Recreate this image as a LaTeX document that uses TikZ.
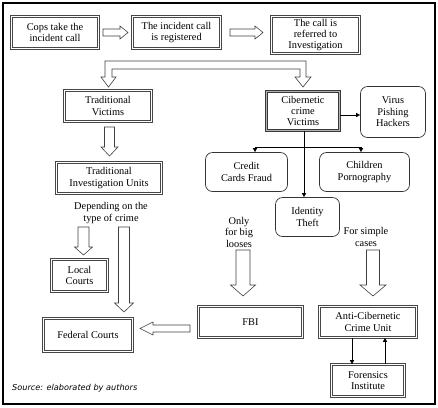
\documentclass[tikz,border=0pt]{standalone}
\usepackage{fontspec}
\setmainfont{Liberation Serif}
\newfontfamily\srcfont{DejaVu Sans}
\usetikzlibrary{arrows.meta}
\newcommand\hhor[6]{\draw[harrow] (#2,{#1-#4}) -- ({#3-(#6)},{#1-#4}) -- ({#3-(#6)},{#1-#5}) -- (#3,#1) -- ({#3-(#6)},{#1+#5}) -- ({#3-(#6)},{#1+#4}) -- (#2,{#1+#4}) -- cycle;}
\newcommand\hver[6]{\draw[harrow] ({#1-#4},#2) -- ({#1-#4},{#3-(#6)}) -- ({#1-#5},{#3-(#6)}) -- (#1,#3) -- ({#1+#5},{#3-(#6)}) -- ({#1+#4},{#3-(#6)}) -- ({#1+#4},#2) -- cycle;}
\begin{document}
\begin{tikzpicture}[x=1bp,y=-1bp,
  every node/.style={inner sep=0pt, align=center, font=\fontsize{10.4}{11.5}\selectfont},
  dbox/.style={draw=gray!55!black, double=white, double distance=1.6bp, line width=0.6bp},
  cbox/.style={draw=gray!45!black, double=gray!60, double distance=1.8bp, line width=0.6bp},
  rbox/.style={draw=gray!40!black, line width=0.7bp, rounded corners=7bp},
  harrow/.style={draw=gray!50!black, line width=0.6bp, fill=white},
  tarrow/.style={draw=black, line width=0.6bp, -{Triangle[length=4bp,width=4bp]}},
  plain/.style={draw=black, line width=0.6bp}
]
\useasboundingbox (0,0) rectangle (438,407);
\draw[line width=2bp] (3,3) rectangle (435,404);

% boxes
\node[dbox, minimum width=87bp, minimum height=32bp] (cops) at (55,32.5) {Cops take the\\incident call};
\node[dbox, minimum width=88bp, minimum height=32bp] (reg) at (176.5,32.5) {The incident call\\is registered};
\node[dbox, minimum width=88bp, minimum height=37bp] (ref) at (315.5,35) {The call is\\referred to\\Investigation};
\node[dbox, minimum width=87bp, minimum height=31bp] (tv) at (108,106) {Traditional\\Victims};
\node[cbox, minimum width=73bp, minimum height=39bp] (cib) at (303,111) {Cibernetic\\crime\\Victims};
\node[rbox, minimum width=65bp, minimum height=51bp] (virus) at (393,112) {Virus\\Pishing\\Hackers};
\node[rbox, minimum width=82bp, minimum height=39bp] (credit) at (246.5,172) {Credit\\Cards Fraud};
\node[rbox, minimum width=90bp, minimum height=39bp] (child) at (364.5,172) {Children\\Pornography};
\node[rbox, minimum width=64bp, minimum height=39bp] (ident) at (307.5,217) {Identity\\Theft};
\node[dbox, minimum width=105bp, minimum height=31bp] (tiu) at (109,178) {Traditional\\Investigation Units};
\node[dbox, minimum width=56bp, minimum height=32bp] (local) at (79.5,275.5) {Local\\Courts};
\node[dbox, minimum width=89bp, minimum height=33bp] (fed) at (88,335) {Federal Courts};
\node[dbox, minimum width=104bp, minimum height=31bp] (fbi) at (250.5,322) {FBI};
\node[dbox, minimum width=97bp, minimum height=31bp] (anti) at (368,322) {Anti-Cibernetic\\Crime Unit};
\node[dbox, minimum width=73bp, minimum height=32bp] (fore) at (368,380.5) {Forensics\\Institute};

% labels
\node (dep) at (111,213) {Depending on the\\type of crime};
\node (big) at (239,232) {Only\\for big\\looses};
\node (simple) at (366,237) {For simple\\cases};
\node[anchor=west, font=\srcfont\itshape\fontsize{8.2}{9}\selectfont] (src) at (12,388) {Source: elaborated by authors};

% hollow arrows
\hhor{32.5}{103}{128}{3.5}{6.5}{8}
\hhor{32.5}{230}{263}{3.5}{6.5}{8}
\draw[harrow] (105,61) -- (306,61) -- (306,77) -- (311,77) -- (303,87) -- (295,77) -- (300,77) -- (300,69) -- (112,69) -- (112,77) -- (116,77) -- (108.5,87) -- (101,77) -- (105,77) -- cycle;
\hver{109.5}{127}{156}{5}{8.5}{9}
\hver{83.5}{227}{255}{5.5}{9}{8}
\hver{124}{227}{312}{5.5}{9.5}{9}
\hver{243}{250}{296}{7}{12.5}{11}
\hver{373}{250}{296}{6.5}{13}{11}
\hhor{328.5}{190}{140}{3.5}{6.5}{-13}

% thin connectors
\draw[tarrow] ([yshift=-4bp]cib.east) -- ([yshift=-4bp]cib.east -| virus.west);
\coordinate (fork) at ([xshift=1bp]cib.south |- 0,147);
\draw[tarrow] ([xshift=1bp]cib.south) -- ([xshift=1bp]cib.south |- ident.north);
\draw[plain] ([xshift=8.5bp]credit.north |- fork) -- ([xshift=-3.5bp]child.north |- fork);
\draw[tarrow] ([xshift=8.5bp]credit.north |- fork) -- ([xshift=8.5bp]credit.north);
\draw[tarrow] ([xshift=-3.5bp]child.north |- fork) -- ([xshift=-3.5bp]child.north);
\draw[tarrow] ([xshift=-16bp]anti.south) -- ([xshift=-16bp]anti.south |- fore.north);
\draw[tarrow] ([xshift=17bp]fore.north) -- ([xshift=17bp]fore.north |- anti.south);
\end{tikzpicture}
\end{document}
